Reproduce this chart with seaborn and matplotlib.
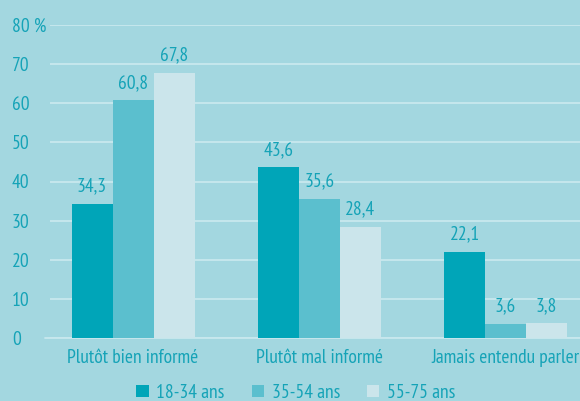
import matplotlib
matplotlib.use("Agg")
import matplotlib.pyplot as plt
import seaborn as sns
import pandas as pd
from matplotlib import font_manager

categories = ["Plutôt bien informé", "Plutôt mal informé", "Jamais entendu parler"]
groups = ["18-34 ans", "35-54 ans", "55-75 ans"]
v_18_34 = [34.3, 43.6, 22.1]
v_35_54 = [60.8, 35.6, 3.6]
v_55_75 = [67.8, 28.4, 3.8]
yticks = [0, 10, 20, 30, 40, 50, 60, 70, 80]
ytick_labels = ["0", "10", "20", "30", "40", "50", "60", "70", "80 %"]

BG = "#A3D7E0"
TEXT = "#15A3B7"
COLORS = ["#00A5B8", "#5BBFCE", "#CBE5EB"]

sns.set_theme(style="white")
names = {f.name for f in font_manager.fontManager.ttflist}
fam = "DejaVu Sans"
for cand in ["PT Sans Narrow", "Fira Sans Condensed", "Roboto Condensed", "Open Sans Condensed",
             "Barlow Semi Condensed", "Archivo Narrow", "Asap Condensed", "Liberation Sans Narrow"]:
    if cand in names:
        fam = cand
        break
plt.rcParams["font.family"] = [fam, "DejaVu Sans"]
FS = 14

rows = []
for g, vals in zip(groups, [v_18_34, v_35_54, v_55_75]):
    for c, v in zip(categories, vals):
        rows.append({"cat": c, "grp": g, "val": v})
df = pd.DataFrame(rows)

fig = plt.figure(figsize=(5.8, 4.01), dpi=100, facecolor=BG)
ax = fig.add_axes([50/580, 63/401, 530/580, (338-25)/401])
ax.set_facecolor(BG)

sns.barplot(data=df, x="cat", y="val", hue="grp", order=categories, hue_order=groups,
            palette=COLORS, width=0.66, ax=ax, saturation=1, edgecolor="none", linewidth=0,
            legend=True)

for cont in ax.containers:
    ax.bar_label(cont, labels=[f"{b.get_height():.1f}".replace(".", ",") for b in cont],
                 padding=6, color=TEXT, fontsize=FS)

ax.set_ylim(0, 80)
ax.set_xlim(-0.446, 2.40)
ax.set_yticks(yticks)
ax.set_yticklabels(ytick_labels)
for lab in ax.get_yticklabels():
    lab.set_horizontalalignment("left")
ax.tick_params(axis="y", length=0, pad=38*0.72, labelcolor=TEXT, labelsize=FS)
ax.tick_params(axis="x", length=0, pad=8, labelcolor=TEXT, labelsize=FS)
ax.set_xlabel("")
ax.set_ylabel("")
for s in ax.spines.values():
    s.set_visible(False)
ax.set_axisbelow(True)
ax.yaxis.grid(True, color="#C8E8EE", linewidth=1.3)
ax.axhline(0, xmin=-5/530, xmax=1, color="#C8E8EE", linewidth=1.3, clip_on=False, zorder=0.5)

leg = ax.legend(loc="center", bbox_to_anchor=(296/580, 1 - 393/401), bbox_transform=fig.transFigure,
                ncol=3, frameon=False, fontsize=FS, labelcolor=TEXT,
                handlelength=0.62, handleheight=0.62, handletextpad=0.4, columnspacing=1.4,
                borderaxespad=0.0, borderpad=0.0)

fig.text(0.995, 0.005, fam, fontsize=4, ha="right", va="bottom", color=BG)
fig.savefig("out.png", dpi=100, facecolor=BG)
